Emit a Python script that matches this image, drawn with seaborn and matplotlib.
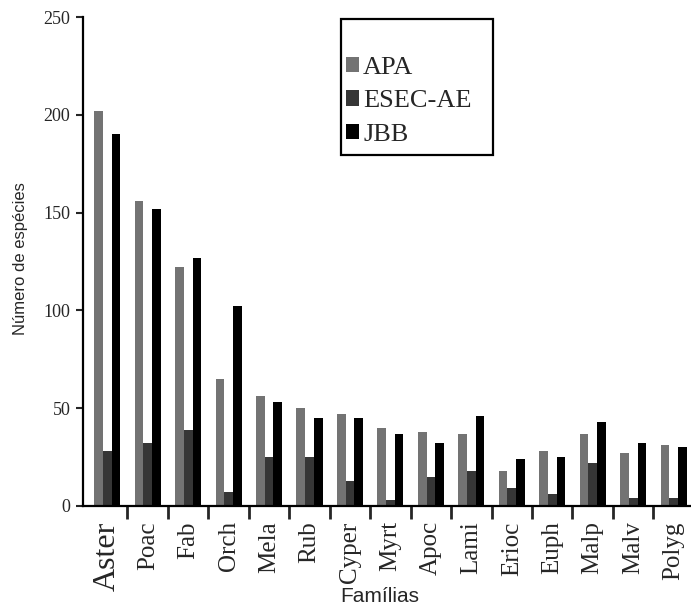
import matplotlib
matplotlib.use("Agg")
import matplotlib.pyplot as plt
from matplotlib.patches import Rectangle
import seaborn as sns
import pandas as pd
import numpy as np

families = ["Aster", "Poac", "Fab", "Orch", "Mela", "Rub", "Cyper", "Myrt",
            "Apoc", "Lami", "Erioc", "Euph", "Malp", "Malv", "Polyg"]
apa = [202, 156, 122, 65, 56, 50, 47, 40, 38, 37, 18, 28, 37, 27, 31]
esec = [28, 32, 39, 7, 25, 25, 13, 3, 15, 18, 9, 6, 22, 4, 4]
jbb = [190, 152, 127, 102, 53, 45, 45, 37, 32, 46, 24, 25, 43, 32, 30]
series = ["APA", "ESEC-AE", "JBB"]
colors = ["#737373", "#363636", "#000000"]
yticks = [0, 50, 100, 150, 200, 250]

df = pd.DataFrame({
    "Família": families * 3,
    "Série": [s for s in series for _ in families],
    "Espécies": apa + esec + jbb,
})

sns.set_style("white")
serif = ["Liberation Serif", "DejaVu Serif"]
sans = ["Liberation Sans", "DejaVu Sans"]

W, H = 691, 609
fig = plt.figure(figsize=(W / 100, H / 100), dpi=100)
ax = fig.add_axes([83 / W, (H - 506) / H, (691 - 83) / W, (506 - 17) / H])

sns.barplot(data=df, x="Família", y="Espécies", hue="Série", order=families,
            hue_order=series, palette=colors, width=0.645, gap=0,
            saturation=1, edgecolor="none", linewidth=0, ax=ax)

ax.set_xlim(-0.6, 14.43)
ax.set_ylim(0, 250)
ax.set_yticks(yticks)
ax.set_yticklabels([str(v) for v in yticks], family=serif, fontsize=13)

ax.set_xticks(range(len(families)))
ax.set_xticklabels(families, rotation=90, family=serif, fontsize=18,
                   va="top", ha="center")
ax.get_xticklabels()[0].set_fontsize(23)
ax.set_xticks(np.arange(len(families) - 1) + 0.5, minor=True)
ax.tick_params(axis="x", which="major", length=0, pad=11)
ax.tick_params(axis="x", which="minor", length=9, width=2, direction="out",
               bottom=True)
ax.tick_params(axis="y", length=5, width=1.5, direction="out", left=True,
               pad=4)

for s in ["top", "right"]:
    ax.spines[s].set_visible(False)
for s in ["left", "bottom"]:
    ax.spines[s].set_linewidth(1.6)
    ax.spines[s].set_color("black")

ax.set_xlabel("")
ax.set_ylabel("")
fig.text(380 / W, 1 - 597 / H, "Famílias", family=sans, fontsize=15,
         ha="center", va="center")
fig.text(21 / W, 1 - 259 / H, "Número de espécies", family=sans, fontsize=12,
         ha="center", va="center", rotation=90)

handles, labels = ax.get_legend_handles_labels()
if ax.get_legend() is not None:
    ax.get_legend().remove()
leg = fig.legend(handles, labels, loc="upper left",
                 bbox_to_anchor=(346 / W, 1 - 57 / H), frameon=False,
                 prop={"family": serif, "size": 19},
                 handlelength=0.5, handleheight=0.5, handletextpad=0.15,
                 labelspacing=0.43, borderpad=0, borderaxespad=0)
fig.patches.append(Rectangle((341 / W, 1 - 155 / H), (493 - 341) / W,
                             (155 - 19) / H, transform=fig.transFigure,
                             fill=False, edgecolor="black", linewidth=1.6))

fig.savefig("out.png", dpi=100)
